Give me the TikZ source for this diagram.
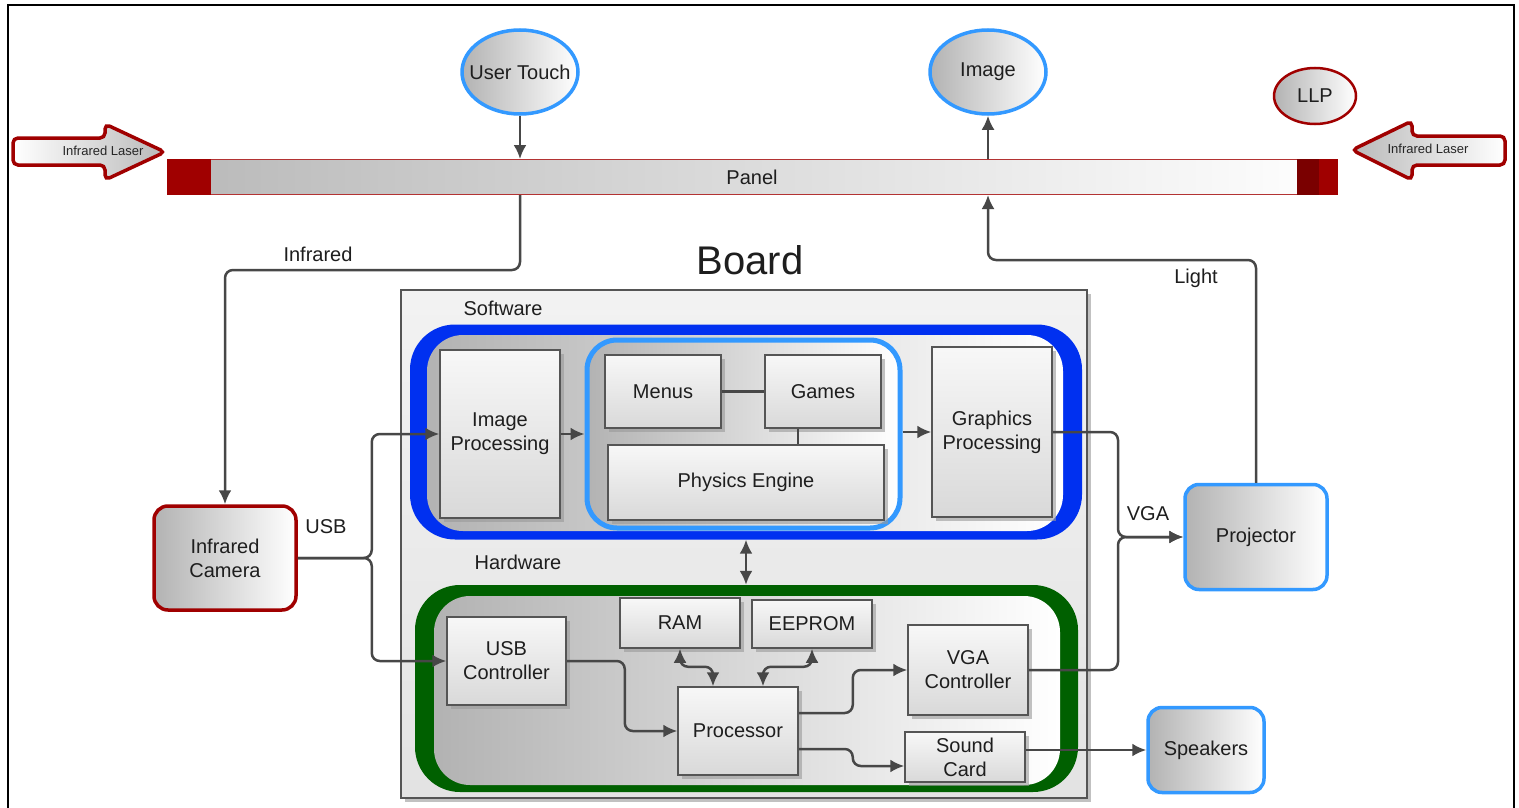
\documentclass[tikz,border=0pt]{standalone}
\usepackage{fontspec}
\setmainfont{Liberation Sans}
\usetikzlibrary{shapes.geometric,shadows,arrows.meta,calc}
\definecolor{lblue}{HTML}{3399FF}
\definecolor{dred}{HTML}{A00000}
\definecolor{ddred}{HTML}{7A0000}
\definecolor{swblue}{HTML}{0030F0}
\definecolor{hwgreen}{HTML}{006000}
\definecolor{boxgray}{HTML}{555555}
\definecolor{conngray}{HTML}{474747}
\definecolor{txt}{HTML}{1E1E1E}
\begin{document}
\begin{tikzpicture}[x=1pt,y=-1pt,
  every node/.style={font=\fontsize{20}{24}\selectfont, text=txt, inner sep=0pt, align=center},
  oval/.style={ellipse, draw=lblue, line width=3.5pt, left color=gray!60, right color=white, minimum width=116pt, minimum height=84pt, inner xsep=-30pt},
  rbox/.style={rectangle, rounded corners=14pt, line width=3.5pt, left color=gray!60, right color=white},
  stepbox/.style={rectangle, draw=boxgray, line width=1.5pt, top color=gray!6, bottom color=gray!30,
     drop shadow={shadow xshift=4pt, shadow yshift=-4pt, fill=gray!80, opacity=.6}},
  grad/.style={left color=gray!60, right color=white},
  conn/.style={draw=conngray, line width=2.5pt, rounded corners=8pt, -{Latex[length=14pt,width=13pt]}},
  dconn/.style={conn, {Latex[length=14pt,width=13pt]}-{Latex[length=14pt,width=13pt]}},
  line/.style={draw=conngray, line width=2.5pt},
  lbl/.style={font=\fontsize{20}{24}\selectfont},
  laser/.style={draw=dred, line width=3.5pt, rounded corners=5pt},
]
\useasboundingbox (0,0) rectangle (1519,808);
\fill[white] (0,0) rectangle (1519,808);
\draw[line width=2pt, black] (8,815) -- (8,5) -- (1514,5) -- (1514,815);

% top ovals
\node[oval] (ut) at (520,72) {User Touch};
\node[oval] (img) at (988,72) {Image};
\node[oval, draw=dred, line width=2.5pt, minimum width=82pt, minimum height=56pt, inner xsep=0pt] (llp) at (1315,96) {LLP};

% lasers
\draw[laser, left color=white, right color=gray!55] (13,138) -- (105,138) -- (105,124) -- (165,152) -- (105,180) -- (105,165) -- (13,165) -- cycle;
\node[font=\fontsize{13}{15}\selectfont, text=gray!30!black] (laserl) at (103,151) {Infrared Laser};
\draw[laser, left color=gray!55, right color=white] (1505,136) -- (1412,136) -- (1412,121) -- (1352,150) -- (1412,180) -- (1412,165) -- (1505,165) -- cycle;
\node[font=\fontsize{13}{15}\selectfont, text=gray!30!black] (laserr) at (1428,149) {Infrared Laser};

% panel
\node[rectangle, draw=dred!80, line width=1pt, left color=gray!55, right color=white, minimum width=1170pt, minimum height=35pt] (panel) at (752,177) {Panel};
\fill[dred] (panel.north west) rectangle ([xshift=44pt]panel.south west);
\fill[ddred] ([xshift=-41pt]panel.north east) rectangle ([xshift=-19pt]panel.south east);
\fill[dred] ([xshift=-19pt]panel.north east) rectangle (panel.south east);

% board
\node[rectangle, draw=boxgray, line width=1.5pt, top color=gray!10, bottom color=gray!22,
  drop shadow={shadow xshift=4pt, shadow yshift=-4pt, fill=gray!80, opacity=.6},
  minimum width=686pt, minimum height=508pt] (board) at (744,544) {};
\node[font=\fontsize{40}{46}\selectfont] (boardl) at (750,260) {Board};
\node[lbl] (swl) at (503,308) {Software};
\node[lbl] (hwl) at (518,562) {Hardware};

% software container
\node[rectangle, rounded corners=45pt, fill=swblue, minimum width=672pt, minimum height=215pt] (sw) at (746,432) {};
\node[rectangle, rounded corners=36pt, grad, minimum width=636pt, minimum height=196pt] (swin) at (745,433) {};
\node[rectangle, rounded corners=30pt, draw=lblue, line width=5pt, grad, minimum width=313pt, minimum height=188pt] (gam) at (743.5,434) {};

% hardware container
\node[rectangle, rounded corners=45pt, fill=hwgreen, minimum width=663pt, minimum height=207pt] (hw) at (746.5,688.5) {};
\node[rectangle, rounded corners=36pt, grad, minimum width=626pt, minimum height=189pt] (hwin) at (747,690.5) {};

% software boxes
\node[stepbox, minimum width=120pt, minimum height=168pt] (ip) at (500,434) {Image\\Processing};
\node[stepbox, minimum width=116pt, minimum height=73pt] (menus) at (663,391.5) {Menus};
\node[stepbox, minimum width=116pt, minimum height=73pt] (games) at (823,391.5) {Games};
\node[stepbox, minimum width=276pt, minimum height=75pt] (phys) at (746,482.5) {Physics Engine};
\node[stepbox, minimum width=120pt, minimum height=170pt] (gp) at (992,432) {Graphics\\Processing};

% hardware boxes
\node[stepbox, minimum width=119pt, minimum height=88pt] (usbc) at (506.5,661) {USB\\Controller};
\node[stepbox, minimum width=120pt, minimum height=50pt] (ram) at (680,623) {RAM};
\node[stepbox, minimum width=120pt, minimum height=48pt] (eep) at (812,624) {EEPROM};
\node[stepbox, minimum width=120pt, minimum height=90pt] (vga) at (968,670) {VGA\\Controller};
\node[stepbox, minimum width=120pt, minimum height=88pt] (proc) at (738,731) {Processor};
\node[stepbox, minimum width=120pt, minimum height=50pt] (sc) at (965,757) {Sound\\Card};

% outside boxes
\node[rbox, draw=dred, minimum width=142pt, minimum height=104pt] (cam) at (225,558) {Infrared\\Camera};
\node[rbox, draw=lblue, minimum width=142pt, minimum height=105pt] (proj) at (1256,537) {Projector};
\node[rbox, draw=lblue, minimum width=116pt, minimum height=85pt] (spk) at (1206,750) {Speakers};

% labels
\node[lbl] (irl) at (318,254) {Infrared};
\node[lbl] (usbl) at (326,527) {USB};
\node[lbl] (vgal) at (1148,514) {VGA};
\node[lbl] (lightl) at (1196,278) {Light};

% connectors
\path (cam.east) -- ++(74,0) coordinate (usbj);
\coordinate (vgaj) at (1118,537);
\draw[conn] (ut.south) -- (ut.south |- panel.north);
\draw[conn] (img.south |- panel.north) -- (img.south);
\draw[conn] (ut.south |- panel.south) -- ++(0,75) -| (cam.north);
\draw[conn] (proj.north) |- ($(img.south |- panel.south)+(0,65)$) -- (img.south |- panel.south);
\draw[conn] (cam.east) -- (usbj) |- (ip.west);
\draw[conn] (cam.east) -- (usbj) |- (usbc.west);
\draw[conn] (ip.east) -- (ip.east -| gam.west);
\draw[conn] (gam.east |- gp.west) -- (gp.west);
\draw[line] (menus.east) -- (games.west);
\draw[line] ([xshift=-25pt]games.south) -- ([xshift=-25pt]games.south |- phys.north);
\draw[dconn] (sw.south -| phys.south) -- (hw.north -| phys.south);
\draw[conn] (gp.east) -| (vgaj) -- (proj.west);
\draw[conn] (vga.east) -| (vgaj) -- (proj.west);
\draw[conn] (sc.east |- spk.west) -- (spk.west);
\draw[conn] (usbc.east) -- ++(58,0) |- (proc.west);
\draw[dconn] (ram.south) -- ++(0,18) -| ([xshift=-25pt]proc.north);
\draw[dconn] (eep.south) -- ++(0,18) -| ([xshift=25pt]proc.north);
\draw[conn] ([yshift=18pt]proc.east) -- ++(54,0) |- (vga.west);
\draw[conn] ([yshift=-18pt]proc.east) -- ++(54,0) |- ([yshift=-9pt]sc.west);
\end{tikzpicture}
\end{document}
